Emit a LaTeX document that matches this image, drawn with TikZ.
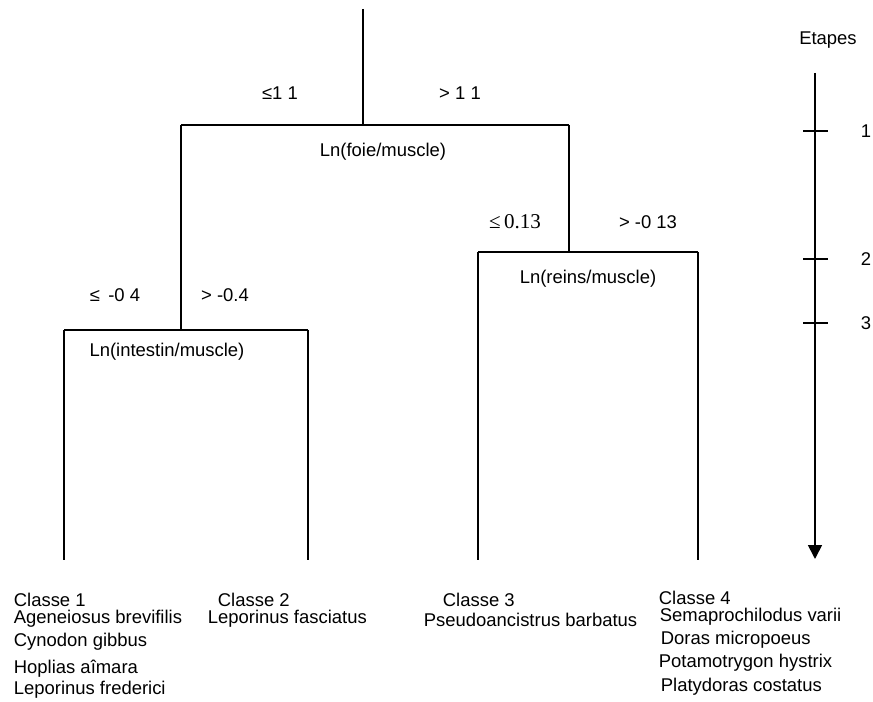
\documentclass[tikz,border=0pt]{standalone}
\usepackage{fontspec}
\setmainfont{Liberation Sans}
\newfontfamily\timesfont{Liberation Serif}
\usetikzlibrary{arrows.meta}

\begin{document}
\begin{tikzpicture}[x=0.02cm,y=-0.02cm,>={Triangle[width=7.9pt,length=7.9pt]},line width=1pt,
  font=\fontsize{10.5}{12}\selectfont,
  lbl/.style={inner sep=0pt},
  sp/.style={inner sep=0pt,anchor=west}]
 \useasboundingbox (0,0) rectangle (873,702);
 % tree
 \coordinate (top) at (363,9);
 \coordinate (n1) at (363,125); \coordinate (l1) at (181,125); \coordinate (r1) at (569,125);
 \coordinate (n2) at (181,330); \coordinate (l2) at (64,330); \coordinate (r2) at (308,330);
 \coordinate (n3) at (569,252); \coordinate (l3) at (478,252); \coordinate (r3) at (698,252);
 \coordinate (c1) at (64,560); \coordinate (c2) at (308,560);
 \coordinate (c3) at (478,560); \coordinate (c4) at (698,560);
 \draw (top) -- (n1) (l1) -- (r1) (l1) -- (n2) (r1) -- (n3);
 \draw (l2) -- (r2) (l2) -- (c1) (r2) -- (c2);
 \draw (l3) -- (r3) (l3) -- (c3) (r3) -- (c4);
 % splits
 \node[lbl] (le1) at (280,93) {≤1 1};
 \node[lbl] (gt1) at (460,93) {> 1 1};
 \node[lbl] (foie) at (383,152) {Ln(foie/muscle)};
 \node[lbl] (le3) at (515,222) {\timesfont\fontsize{12}{14}\selectfont ≤\,0.13};
 \node[lbl] (gt3) at (648,222) {> -0 13};
 \node[lbl] (reins) at (588,279) {Ln(reins/muscle)};
 \node[lbl] (le2) at (115,295) {≤ \,-0 4};
 \node[lbl] (gt2) at (225,295) {> -0.4};
 \node[lbl] (intestin) at (167,352) {Ln(intestin/muscle)};
 % etapes
 \node[lbl] (etapes) at (828,40) {Etapes};
 \coordinate (ax0) at (815,73); \coordinate (ax1) at (815,559);
 \draw[->] (ax0) -- (ax1);
 \foreach \y/\k in {131/1,259/2,323/3} {
  \draw (803,\y) -- (828,\y);
  \node[lbl] (et\k) at (866,\y) {\k};
 }
 % classes
 \node[sp] (cl1) at (13,600) {Classe 1};
 \node[sp] (s11) at (13,619) {Ageneiosus brevifilis};
 \node[sp] (s12) at (13,642) {Cynodon gibbus};
 \node[sp] (s13) at (13,669) {Hoplias aîmara};
 \node[sp] (s14) at (13,690) {Leporinus frederici};
 \node[sp] (cl2) at (217,600) {Classe 2};
 \node[sp] (s21) at (207,619) {Leporinus fasciatus};
 \node[sp] (cl3) at (442,600) {Classe 3};
 \node[sp] (s31) at (423,620) {Pseudoancistrus barbatus};
 \node[sp] (cl4) at (658,598) {Classe 4};
 \node[sp] (s41) at (659,617) {Semaprochilodus varii};
 \node[sp] (s42) at (660,640) {Doras micropoeus};
 \node[sp] (s43) at (658,663) {Potamotrygon hystrix};
 \node[sp] (s44) at (660,687) {Platydoras costatus};
\end{tikzpicture}
\end{document}
